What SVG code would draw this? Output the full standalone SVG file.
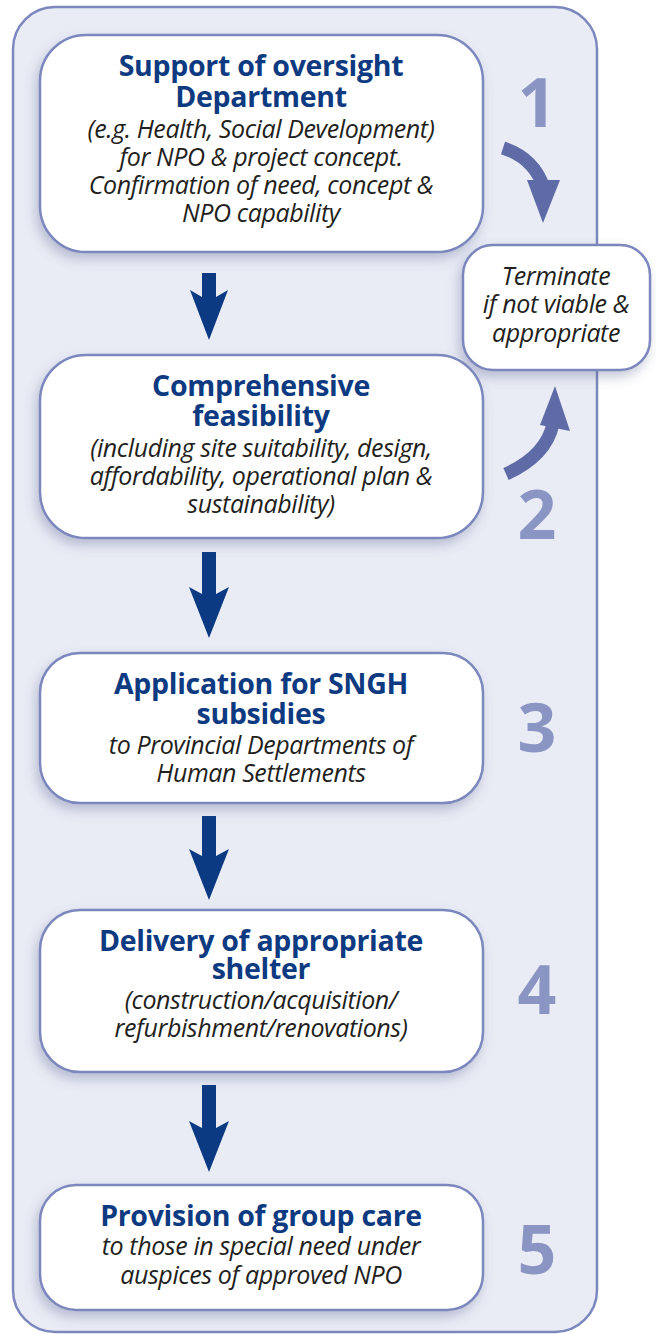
<svg xmlns="http://www.w3.org/2000/svg" width="656" height="1334" viewBox="0 0 656 1334">
  <defs>
    <filter id="shadow" x="-10%" y="-10%" width="125%" height="130%">
      <feDropShadow dx="-3" dy="6" stdDeviation="6" flood-color="#5a6290" flood-opacity="0.35"/>
    </filter>
    <style>
      .frame { fill: #e9ecf5; stroke: #7c87bd; stroke-width: 2.5; }
      .box { fill: #ffffff; stroke: #7c87bd; stroke-width: 2.5; filter: url(#shadow); }
      .title { font-family: "Open Sans", "Liberation Sans", sans-serif; font-weight: bold; font-size: 28.5px; fill: #0d3a80; text-anchor: middle; letter-spacing: -0.3px; }
      .sub { font-family: "Open Sans", "Liberation Sans", sans-serif; font-style: italic; font-size: 25px; fill: #231f20; text-anchor: middle; letter-spacing: -0.4px; }
      .num { font-family: "Open Sans", "Liberation Sans", sans-serif; font-weight: bold; font-size: 68px; fill: #8b95c4; text-anchor: middle; }
      .down { fill: #0b3a82; }
      .curve { fill: none; stroke: #5f6ba6; stroke-width: 13; }
      .curvehead { fill: #5f6ba6; }
    </style>
  </defs>

  <!-- outer frame -->
  <rect class="frame" x="13" y="7" width="584" height="1325" rx="42"/>

  <!-- step numbers -->
  <g id="numbers">
    <text class="num" x="537" y="127">1</text>
    <text class="num" x="537" y="539">2</text>
    <text class="num" x="537" y="752">3</text>
    <text class="num" x="537" y="1014">4</text>
    <text class="num" x="537" y="1274">5</text>
  </g>

  <!-- connectors -->
  <g id="connectors">
    <path class="down" d="M202,273 H216 V297 L228,290 L209,340 L190,290 L202,297 Z"/>
    <path class="down" d="M202,552 H216 V594 L229,587 L209,638 L189,587 L202,594 Z"/>
    <path class="down" d="M202,816 H216 V856 L229,849 L209,900 L189,849 L202,856 Z"/>
    <path class="down" d="M202,1085 H216 V1128 L229,1121 L209,1172 L189,1121 L202,1128 Z"/>
    <path class="curve" d="M503,148 Q534,158 544,188"/>
    <path class="curvehead" d="M527,180 L560,180 L543,223 Z"/>
    <path class="curve" d="M506,474 Q546,456 553,424"/>
    <path class="curvehead" d="M540,425 L570,431 L555,386 Z"/>
  </g>

  <!-- step 1 -->
  <g id="step1">
    <rect class="box" x="40" y="35" width="443" height="217" rx="46"/>
    <text class="title" x="261" y="76">Support of oversight</text>
    <text class="title" x="261" y="107">Department</text>
    <text class="sub" x="261" y="138">(e.g. Health, Social Development)</text>
    <text class="sub" x="261" y="166">for NPO &amp; project concept.</text>
    <text class="sub" x="261" y="194">Confirmation of need, concept &amp;</text>
    <text class="sub" x="261" y="222">NPO capability</text>
  </g>

  <!-- terminate -->
  <g id="terminate">
    <rect class="box" x="463" y="245" width="187" height="125" rx="30"/>
    <text class="sub" x="556" y="285">Terminate</text>
    <text class="sub" x="556" y="313">if not viable &amp;</text>
    <text class="sub" x="556" y="342">appropriate</text>
  </g>

  <!-- step 2 -->
  <g id="step2">
    <rect class="box" x="40" y="355" width="443" height="183" rx="46"/>
    <text class="title" x="261" y="396">Comprehensive</text>
    <text class="title" x="261" y="426">feasibility</text>
    <text class="sub" x="261" y="457">(including site suitability, design,</text>
    <text class="sub" x="261" y="485">affordability, operational plan &amp;</text>
    <text class="sub" x="261" y="513">sustainability)</text>
  </g>

  <!-- step 3 -->
  <g id="step3">
    <rect class="box" x="40" y="653" width="443" height="150" rx="40"/>
    <text class="title" x="261" y="694">Application for SNGH</text>
    <text class="title" x="261" y="724">subsidies</text>
    <text class="sub" x="261" y="754">to Provincial Departments of</text>
    <text class="sub" x="261" y="782">Human Settlements</text>
  </g>

  <!-- step 4 -->
  <g id="step4">
    <rect class="box" x="40" y="910" width="443" height="162" rx="40"/>
    <text class="title" x="261" y="951">Delivery of appropriate</text>
    <text class="title" x="261" y="979">shelter</text>
    <text class="sub" x="261" y="1009">(construction/acquisition/</text>
    <text class="sub" x="261" y="1037">refurbishment/renovations)</text>
  </g>

  <!-- step 5 -->
  <g id="step5">
    <rect class="box" x="40" y="1185" width="443" height="125" rx="36"/>
    <text class="title" x="261" y="1226">Provision of group care</text>
    <text class="sub" x="261" y="1255">to those in special need under</text>
    <text class="sub" x="261" y="1284">auspices of approved NPO</text>
  </g>
</svg>
